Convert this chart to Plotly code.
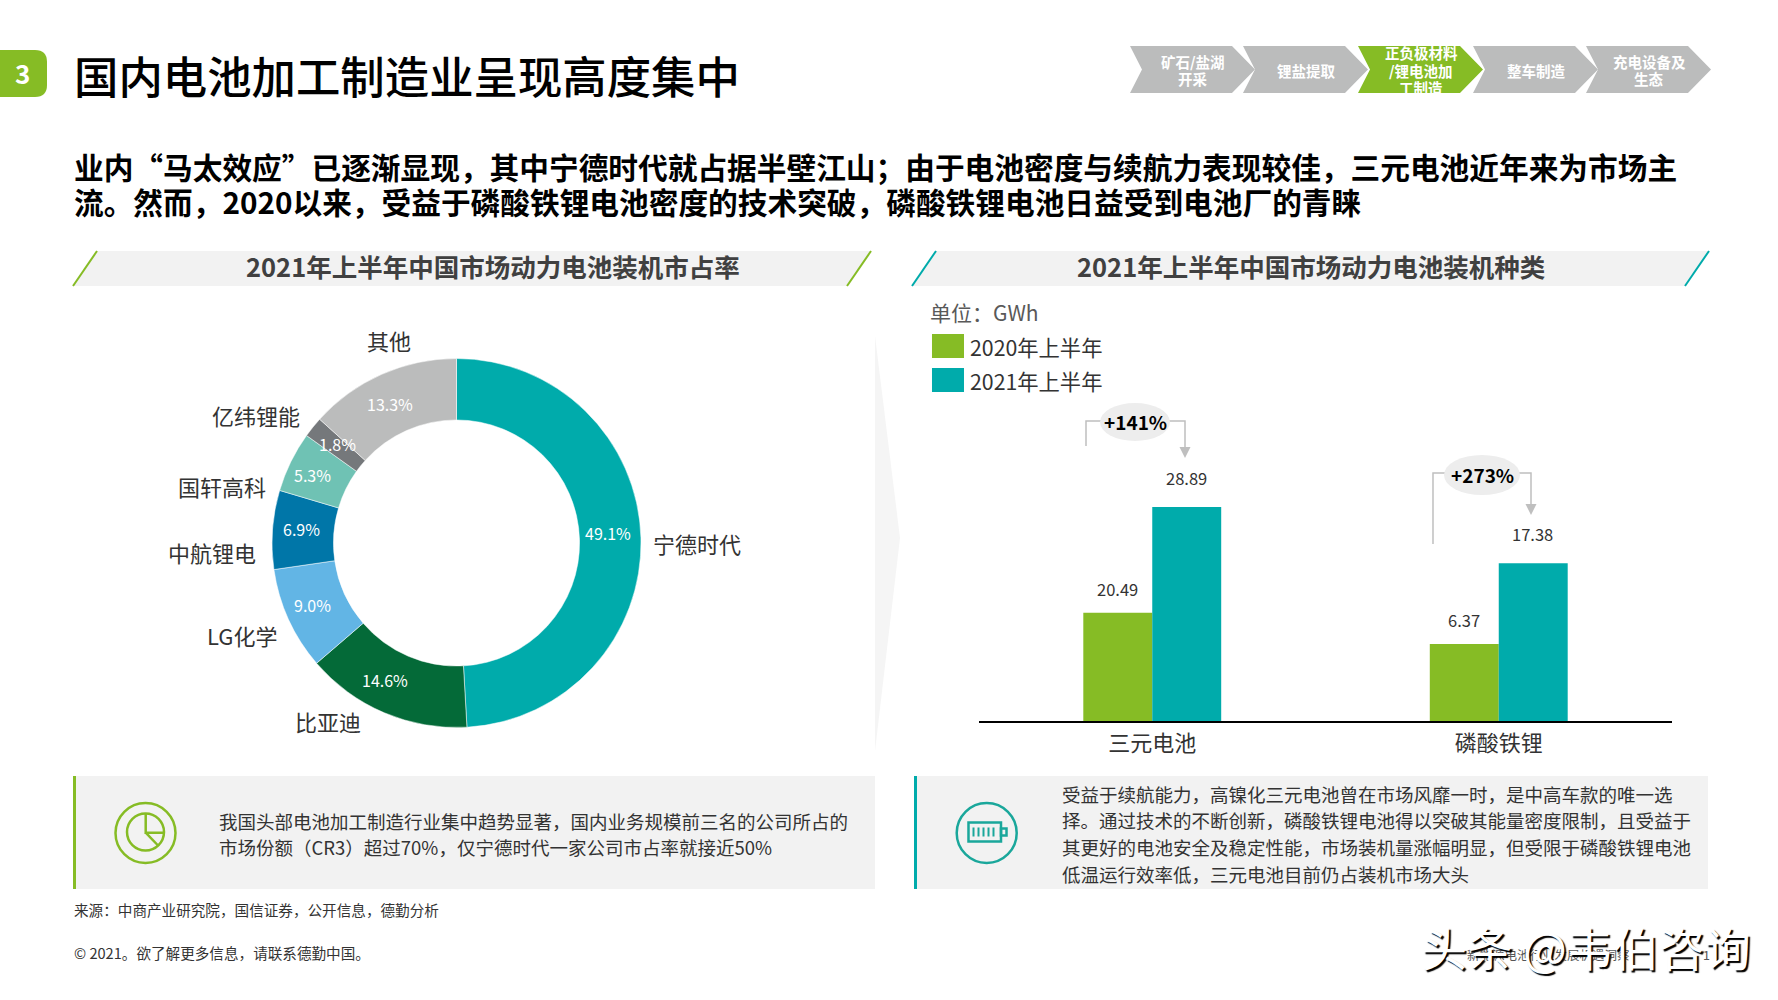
import math
import plotly.graph_objects as go

W, H = 1778, 1000
FONT = "Noto Sans CJK SC"

GREEN = "#86BC25"
TEAL = "#00ABAB"
PANEL = "#F2F2F2"
TEXT = "#333333"

# 市占率
share_names = ["宁德时代", "比亚迪", "LG化学", "中航锂电", "国轩高科", "亿纬锂能", "其他"]
share_values = [49.1, 14.6, 9.0, 6.9, 5.3, 1.8, 13.3]
share_colors = [TEAL, "#046A38", "#62B5E5", "#0076A8", "#6FC2B4", "#75787B", "#BBBCBC"]

# 装机种类
kinds = ["三元电池", "磷酸铁锂"]
years = ["2020年上半年", "2021年上半年"]
# 印在图上的数值
printed_2020 = ["20.49", "6.37"]
printed_2021 = ["28.89", "17.38"]
# 原图柱高与标注数字不成比例，这里按原图读取的柱高（以28.89那根为基准）
drawn_2020 = [14.6, 10.4]
drawn_2021 = [28.89, 21.3]
growth = ["+141%", "+273%"]

steps = [["矿石/盐湖", "开采"], ["锂盐提取"], ["正负极材料", "/锂电池加", "工制造"], ["整车制造"], ["充电设备及", "生态"]]

title = "国内电池加工制造业呈现高度集中"
subtitle = ["业内“马太效应”已逐渐显现，其中宁德时代就占据半壁江山；由于电池密度与续航力表现较佳，三元电池近年来为市场主",
            "流。然而，2020以来，受益于磷酸铁锂电池密度的技术突破，磷酸铁锂电池日益受到电池厂的青睐"]
left_note = ["我国头部电池加工制造行业集中趋势显著，国内业务规模前三名的公司所占的",
             "市场份额（CR3）超过70%，仅宁德时代一家公司市占率就接近50%"]
right_note = ["受益于续航能力，高镍化三元电池曾在市场风靡一时，是中高车款的唯一选",
              "择。通过技术的不断创新，磷酸铁锂电池得以突破其能量密度限制，且受益于",
              "其更好的电池安全及稳定性能，市场装机量涨幅明显，但受限于磷酸铁锂电池",
              "低温运行效率低，三元电池目前仍占装机市场大头"]


def px(x):
    return x / W


def py(y):
    return 1 - y / H


def poly(points, fill=None, line=None, width=0, close=True, layer="below"):
    d = "M" + " L".join(f"{px(x):.5f},{py(y):.5f}" for x, y in points)
    if close:
        d += " Z"
    return dict(type="path", xref="paper", yref="paper", path=d, layer=layer,
                fillcolor=fill if fill else "rgba(0,0,0,0)",
                line=dict(color=line if line else "rgba(0,0,0,0)", width=width))


def circle(cx, cy, rx, ry=None, fill=None, line=None, width=0, layer="above"):
    ry = rx if ry is None else ry
    return dict(type="circle", xref="paper", yref="paper", layer=layer,
                x0=px(cx - rx), x1=px(cx + rx), y0=py(cy + ry), y1=py(cy - ry),
                fillcolor=fill if fill else "rgba(0,0,0,0)",
                line=dict(color=line if line else "rgba(0,0,0,0)", width=width))


def label(x, y, text, size, color=TEXT, bold=False, anchor="left", shadow=None, weight=None):
    # Noto的字形在行框里偏下，统一上移一点
    font = dict(family=FONT, size=size, color=color, weight=weight or (700 if bold else 400))
    if shadow:
        font["shadow"] = shadow
    return dict(xref="paper", yref="paper", x=px(x), y=py(y - 2.5), text=text, showarrow=False,
                xanchor=anchor, yanchor="middle", font=font, borderpad=0)


shapes = []
notes = []

# 左上角编号
tag = (f"M0,{py(50):.5f} L{px(35):.5f},{py(50):.5f} Q{px(47):.5f},{py(50):.5f} {px(47):.5f},{py(62):.5f} "
       f"L{px(47):.5f},{py(85):.5f} Q{px(47):.5f},{py(97):.5f} {px(35):.5f},{py(97):.5f} L0,{py(97):.5f} Z")
shapes.append(dict(type="path", xref="paper", yref="paper", path=tag, fillcolor=GREEN, line_width=0, layer="below"))
notes.append(label(22, 75, "3", 26, "white", True, "center"))
notes.append(label(73, 77, title, 44.4, "#000000", weight=500))

# 产业链箭头
step_x = [1130, 1243, 1358, 1473, 1586]
for i, (x, lines) in enumerate(zip(step_x, steps)):
    color = GREEN if i == 2 else "#BBBCBC"
    shapes.append(poly([(x, 46), (x + 102, 46), (x + 125, 69.5), (x + 102, 93), (x, 93), (x + 12, 69.5)], fill=color))
    cx = x + 63
    line_gap = 17.5 if len(lines) == 3 else 17
    top = 72.5 - line_gap * (len(lines) - 1) / 2
    for j, t in enumerate(lines):
        notes.append(label(cx, top + j * line_gap, t, 14.5, "white", True, "center"))

notes.append(label(73, 168.5, subtitle[0], 29.7, "#000000", True))
notes.append(label(73, 204.5, subtitle[1], 29.7, "#000000", True))

# 两个小标题
for x0, x1, color, text, cx in [(73, 847, GREEN, "2021年上半年中国市场动力电池装机市占率", 493),
                                (912, 1685, TEAL, "2021年上半年中国市场动力电池装机种类", 1311)]:
    shapes.append(poly([(x0, 286), (x0 + 24, 251), (x1 + 24, 251), (x1, 286)], fill=PANEL))
    shapes.append(poly([(x0, 286), (x0 + 24, 251)], line=color, width=2, close=False))
    shapes.append(poly([(x1, 286), (x1 + 24, 251)], line=color, width=2, close=False))
    notes.append(label(cx, 267.5, text, 25.5, "#404040", True, "center"))

# 中间分隔
shapes.append(poly([(875, 336), (900, 538), (875, 751)], fill="#F5F5F5"))

# 底部说明框
for x0, x1, color in [(73, 875, GREEN), (914, 1708, TEAL)]:
    shapes.append(poly([(x0, 776), (x1, 776), (x1, 889), (x0, 889)], fill=PANEL))
    shapes.append(poly([(x0, 776), (x0 + 3, 776), (x0 + 3, 889), (x0, 889)], fill=color))

for i, t in enumerate(left_note):
    notes.append(label(218, 823 + i * 26.3, t, 18.5))
for i, t in enumerate(right_note):
    notes.append(label(1061, 796 + i * 26.7, t, 18.5))

# 饼图小图标
shapes.append(circle(145.5, 833, 30, line=GREEN, width=2.5))
shapes.append(circle(145.5, 832, 18.5, line=GREEN, width=2.5))
shapes.append(poly([(145.7, 814), (145.7, 832.7), (163.5, 832.7)], line=GREEN, width=2.5, close=False, layer="above"))
shapes.append(poly([(145.7, 832.7), (158.5, 846)], line=GREEN, width=2.5, close=False, layer="above"))

# 电池小图标
BAT = "#1AA79B"
shapes.append(circle(986.7, 833, 30, line=BAT, width=2.5))
shapes.append(poly([(968.5, 822.5), (1001, 822.5), (1001, 841.5), (968.5, 841.5)], line=BAT, width=2.5, layer="above"))
shapes.append(poly([(1001, 828.5), (1006.5, 828.5), (1006.5, 835.5), (1001, 835.5)], line=BAT, width=2.5, layer="above"))
for bx in [973.5, 978.5, 983.5, 988.5, 993.5]:
    shapes.append(poly([(bx, 827.5), (bx, 836.5)], line=BAT, width=2, close=False, layer="above"))

# 页脚
notes.append(label(73, 912, "来源：中商产业研究院，国信证券，公开信息，德勤分析", 14.6))
notes.append(label(73, 955, "© 2021。欲了解更多信息，请联系德勤中国。", 14.6))
notes.append(label(1466, 957, "新能源电池行业发展机遇洞察", 12.5, "#555555"))
notes.append(label(1702, 957, "1", 12.5, "#555555"))
notes.append(label(1420, 948, "头条 @韦伯咨询", 46, "white", shadow="2px 2px 1px #000000"))

# ---------- 环形图 ----------
cx, cy, R = 456.5, 543, 184.5
HOLE = 0.667
pie = go.Pie(
    labels=share_names, values=share_values, sort=False, direction="clockwise", rotation=0,
    hole=HOLE, textinfo="none", showlegend=False,
    marker=dict(colors=share_colors, line=dict(color="white", width=0.5)),
    domain=dict(x=[px(cx - R), px(cx + R)], y=[py(cy + R), py(cy - R)]),
)

# 百分比放在环的中线上，再按原图微调
pct_nudge = [(0, -3), (-9, -2), (-2, 1), (0, 0), (-4, 2), (3, 0), (-2, 4)]
total = sum(share_values)
seen = 0
for v, (dx, dy) in zip(share_values, pct_nudge):
    a = (seen + v / 2) / total * 2 * math.pi
    seen += v
    rr = R * (1 + HOLE) / 2
    notes.append(label(cx + rr * math.sin(a) - 2 + dx, cy - rr * math.cos(a) + dy, f"{v:.1f}%", 16, "white", False, "center"))

name_pos = [(697, 545), (328, 723), (242, 637), (212, 554), (222, 488), (256, 417), (389, 342)]
for n, (x, y) in zip(share_names, name_pos):
    notes.append(label(x, y, n, 22, "#333333", False, "center"))

# ---------- 柱状图 ----------
bar1 = go.Bar(x=kinds, y=drawn_2020, name=years[0], marker_color=GREEN, marker_line_width=0, showlegend=False)
bar2 = go.Bar(x=kinds, y=drawn_2021, name=years[1], marker_color=TEAL, marker_line_width=0, showlegend=False)

for k, a, b, ta, tb in zip(kinds, drawn_2020, drawn_2021, printed_2020, printed_2021):
    for v, t, shift, up in [(a, ta, -35, 10), (b, tb, 34, 15)]:
        notes.append(dict(xref="x", yref="y", x=k, y=v, text=t, showarrow=False, xshift=shift, yshift=up,
                          yanchor="bottom", font=dict(family=FONT, size=16.5, color=TEXT)))

# 图例和单位
notes.append(label(929, 314, "单位：GWh", 21, "#595959"))
for (y0, y1), color, t in zip([(334, 358), (368, 392)], [GREEN, TEAL], years):
    shapes.append(poly([(932, y0), (964, y0), (964, y1), (932, y1)], fill=color))
    notes.append(label(969, (y0 + y1) / 2 + 3, t, 21.3))

# 增长标注
GREY = "#BFBFBF"
for (ex, ey, rx, ry), pts, t in zip(
    [(1135, 422, 35, 19), (1482, 475, 38, 20)],
    [[(1086, 446), (1086, 421), (1185, 421), (1185, 447)], [(1433, 544), (1433, 473), (1531, 473), (1531, 504)]],
    growth,
):
    shapes.append(poly(pts, line=GREY, width=1.5, close=False, layer="above"))
    tip_x, tip_y = pts[-1]
    shapes.append(poly([(tip_x - 5.5, tip_y), (tip_x + 5.5, tip_y), (tip_x, tip_y + 11)], fill=GREY, layer="above"))
    shapes.append(circle(ex, ey, rx, ry, fill="#EDEDED"))
    notes.append(label(ex, ey + 2, t, 19, "#000000", True, "center"))

fig = go.Figure([pie, bar1, bar2])
fig.update_layout(
    width=W, height=H,
    margin=dict(l=0, r=0, t=0, b=0),
    paper_bgcolor="white", plot_bgcolor="rgba(0,0,0,0)",
    font=dict(family=FONT, color=TEXT),
    barmode="group", bargap=0.602, bargroupgap=0,
    shapes=shapes, annotations=notes,
    xaxis=dict(domain=[px(979), px(1672)], type="category", showline=True, linecolor="#000000", linewidth=1.5,
               showgrid=False, ticks="outside", ticklen=2, tickcolor="rgba(0,0,0,0)",
               tickfont=dict(family=FONT, size=22, color=TEXT)),
    yaxis=dict(domain=[py(721), py(480)], range=[0, 32.53], visible=False),
)

fig.write_html("out.html", config=dict(displayModeBar=False), post_script="document.body.style.margin='0';")
